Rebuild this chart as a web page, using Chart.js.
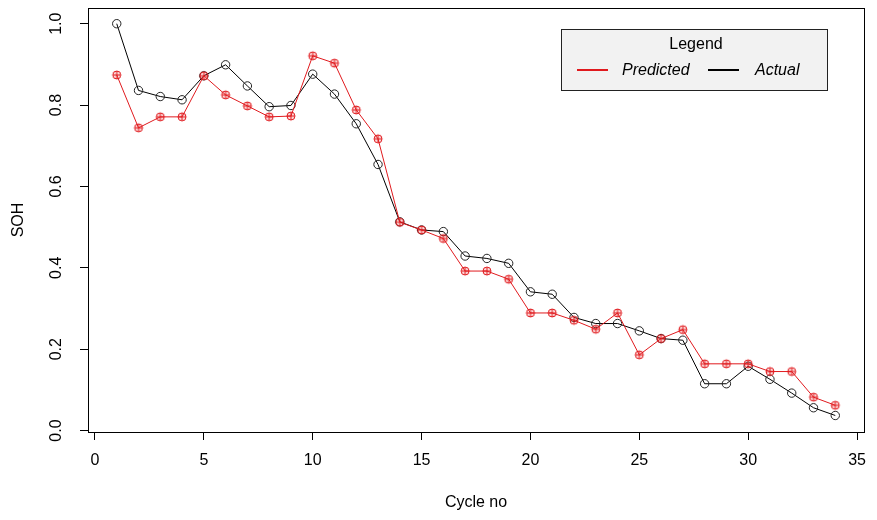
<!DOCTYPE html>
<html>
<head>
<meta charset="utf-8">
<title>SOH: predicted vs actual</title>
<script src="https://cdn.jsdelivr.net/npm/chart.js@4.4.1/dist/chart.umd.min.js"></script>
<style>
   html, body { margin: 0; padding: 0; background: #fff; }
   #wrap { width: 877px; height: 520px; }
</style>
</head>
<body>
<div id="wrap"><canvas id="sohChart" width="877" height="520"></canvas></div>
<script>
const cycles = [1, 2, 3, 4, 5, 6, 7, 8, 9, 10, 11, 12, 13, 14, 15, 16, 17,
   18, 19, 20, 21, 22, 23, 24, 25, 26, 27, 28, 29, 30, 31, 32, 33, 34];

const predicted = [0.874, 0.744, 0.771, 0.771, 0.872, 0.825, 0.798, 0.771, 0.773, 0.921,
   0.903, 0.788, 0.717, 0.512, 0.493, 0.472, 0.392, 0.392, 0.372, 0.289,
   0.289, 0.271, 0.249, 0.289, 0.186, 0.226, 0.248, 0.164, 0.164, 0.164,
   0.145, 0.145, 0.082, 0.062];

const actual = [1.000, 0.836, 0.821, 0.813, 0.872, 0.899, 0.847, 0.796, 0.799, 0.876,
   0.827, 0.754, 0.654, 0.513, 0.493, 0.489, 0.429, 0.423, 0.411, 0.341,
   0.335, 0.278, 0.263, 0.263, 0.245, 0.226, 0.222, 0.115, 0.115, 0.158,
   0.126, 0.092, 0.056, 0.037];

const xTicks = [0, 5, 10, 15, 20, 25, 30, 35];
const yTicks = [0.0, 0.2, 0.4, 0.6, 0.8, 1.0];

const seriesNames = ['Predicted', 'Actual'];

const FONT = '"Liberation Sans", Arial, sans-serif';

// R's pch = 10 : circle with a plus inside
function circlePlus(color, fill, r) {
   const c = document.createElement('canvas');
   const s = Math.ceil(r * 2 + 4);
   c.width = s;
   c.height = s;
   const g = c.getContext('2d');
   const m = s / 2;
   g.lineWidth = 1;
   g.strokeStyle = color;
   g.fillStyle = fill;
   g.beginPath();
   g.arc(m, m, r, 0, Math.PI * 2);
   g.fill();
   g.stroke();
   g.beginPath();
   g.moveTo(m - r, m);
   g.lineTo(m + r, m);
   g.moveTo(m, m - r);
   g.lineTo(m, m + r);
   g.stroke();
   return c;
}

// box, rotated y labels and the legend, drawn like base R graphics
const rStyle = {
   id: 'rStyle',
   afterDraw(chart) {
      const { ctx, chartArea: a, scales } = chart;
      ctx.save();

      ctx.strokeStyle = '#000';
      ctx.lineWidth = 1;
      ctx.strokeRect(Math.round(a.left) + 0.5, Math.round(a.top) + 0.5,
         Math.round(a.right - a.left), Math.round(a.bottom - a.top));

      ctx.font = '16px ' + FONT;
      ctx.fillStyle = '#000';
      ctx.textAlign = 'center';
      ctx.textBaseline = 'middle';
      yTicks.forEach(v => {
         const y = scales.y.getPixelForValue(v);
         ctx.save();
         ctx.translate(57, y);
         ctx.rotate(-Math.PI / 2);
         ctx.fillText(v.toFixed(1), 0, 0);
         ctx.restore();
      });

      // legend box
      const bx = 561, by = 29, bw = 266, bh = 61;
      ctx.fillStyle = '#f2f2f2';
      ctx.fillRect(bx, by, bw, bh);
      ctx.strokeStyle = '#222';
      ctx.strokeRect(bx + 0.5, by + 0.5, bw, bh);

      ctx.fillStyle = '#000';
      ctx.fillText('Legend', 696, 45);

      const items = [
         { x0: 577, x1: 608, tx: 622 },
         { x0: 708, x1: 739, tx: 755 }
      ];
      ctx.textAlign = 'left';
      ctx.font = 'italic 16px ' + FONT;
      chart.data.datasets.forEach((ds, i) => {
         const it = items[i];
         ctx.strokeStyle = ds.borderColor;
         ctx.lineWidth = 2;
         ctx.beginPath();
         ctx.moveTo(it.x0, 70);
         ctx.lineTo(it.x1, 70);
         ctx.stroke();
         ctx.fillStyle = '#000';
         ctx.fillText(ds.label, it.tx, 71);
      });

      ctx.restore();
   }
};

const ctx = document.getElementById('sohChart').getContext('2d');

new Chart(ctx, {
   type: 'line',
   data: {
      datasets: [
         {
            label: seriesNames[0],
            data: cycles.map((c, i) => ({ x: c, y: predicted[i] })),
            borderColor: '#e01a1e',
            borderWidth: 1,
            pointStyle: circlePlus('#e01a1e', 'rgba(240,60,60,0.18)', 4),
            pointRadius: 4.2,
            tension: 0,
            fill: false
         },
         {
            label: seriesNames[1],
            data: cycles.map((c, i) => ({ x: c, y: actual[i] })),
            borderColor: '#000',
            borderWidth: 1,
            pointStyle: 'circle',
            pointRadius: 4.2,
            pointBorderWidth: 1,
            pointBorderColor: '#222',
            pointBackgroundColor: 'rgba(0,0,0,0)',
            tension: 0,
            fill: false
         }
      ]
   },
   options: {
      responsive: false,
      animation: false,
      layout: { padding: { top: 8, right: 6, left: 0, bottom: 0 } },
      plugins: {
         legend: { display: false },
         tooltip: { enabled: false }
      },
      scales: {
         x: {
            type: 'linear',
            min: -0.32,
            max: 35.32,
            afterBuildTicks: s => { s.ticks = xTicks.map(v => ({ value: v })); },
            afterFit: s => { s.height = 88; },
            border: { display: false },
            grid: { drawOnChartArea: false, drawTicks: true, tickLength: 8, tickColor: '#000', tickWidth: 1 },
            ticks: {
               color: '#000',
               font: { family: FONT, size: 16 },
               padding: 11,
               maxRotation: 0,
               autoSkip: false
            },
            title: {
               display: true,
               text: 'Cycle no',
               color: '#000',
               font: { family: FONT, size: 16 },
               padding: { top: 8, bottom: 8 }
            }
         },
         y: {
            type: 'linear',
            min: -0.0036,
            max: 1.0386,
            afterBuildTicks: s => { s.ticks = yTicks.map(v => ({ value: v })); },
            afterFit: s => { s.width = 88; },
            border: { display: false },
            grid: { drawOnChartArea: false, drawTicks: true, tickLength: 8, tickColor: '#000', tickWidth: 1 },
            ticks: { display: false },
            title: {
               display: true,
               text: 'SOH',
               color: '#000',
               font: { family: FONT, size: 16 },
               padding: { top: 9, bottom: 9 }
            }
         }
      }
   },
   plugins: [rStyle]
});
</script>
</body>
</html>
